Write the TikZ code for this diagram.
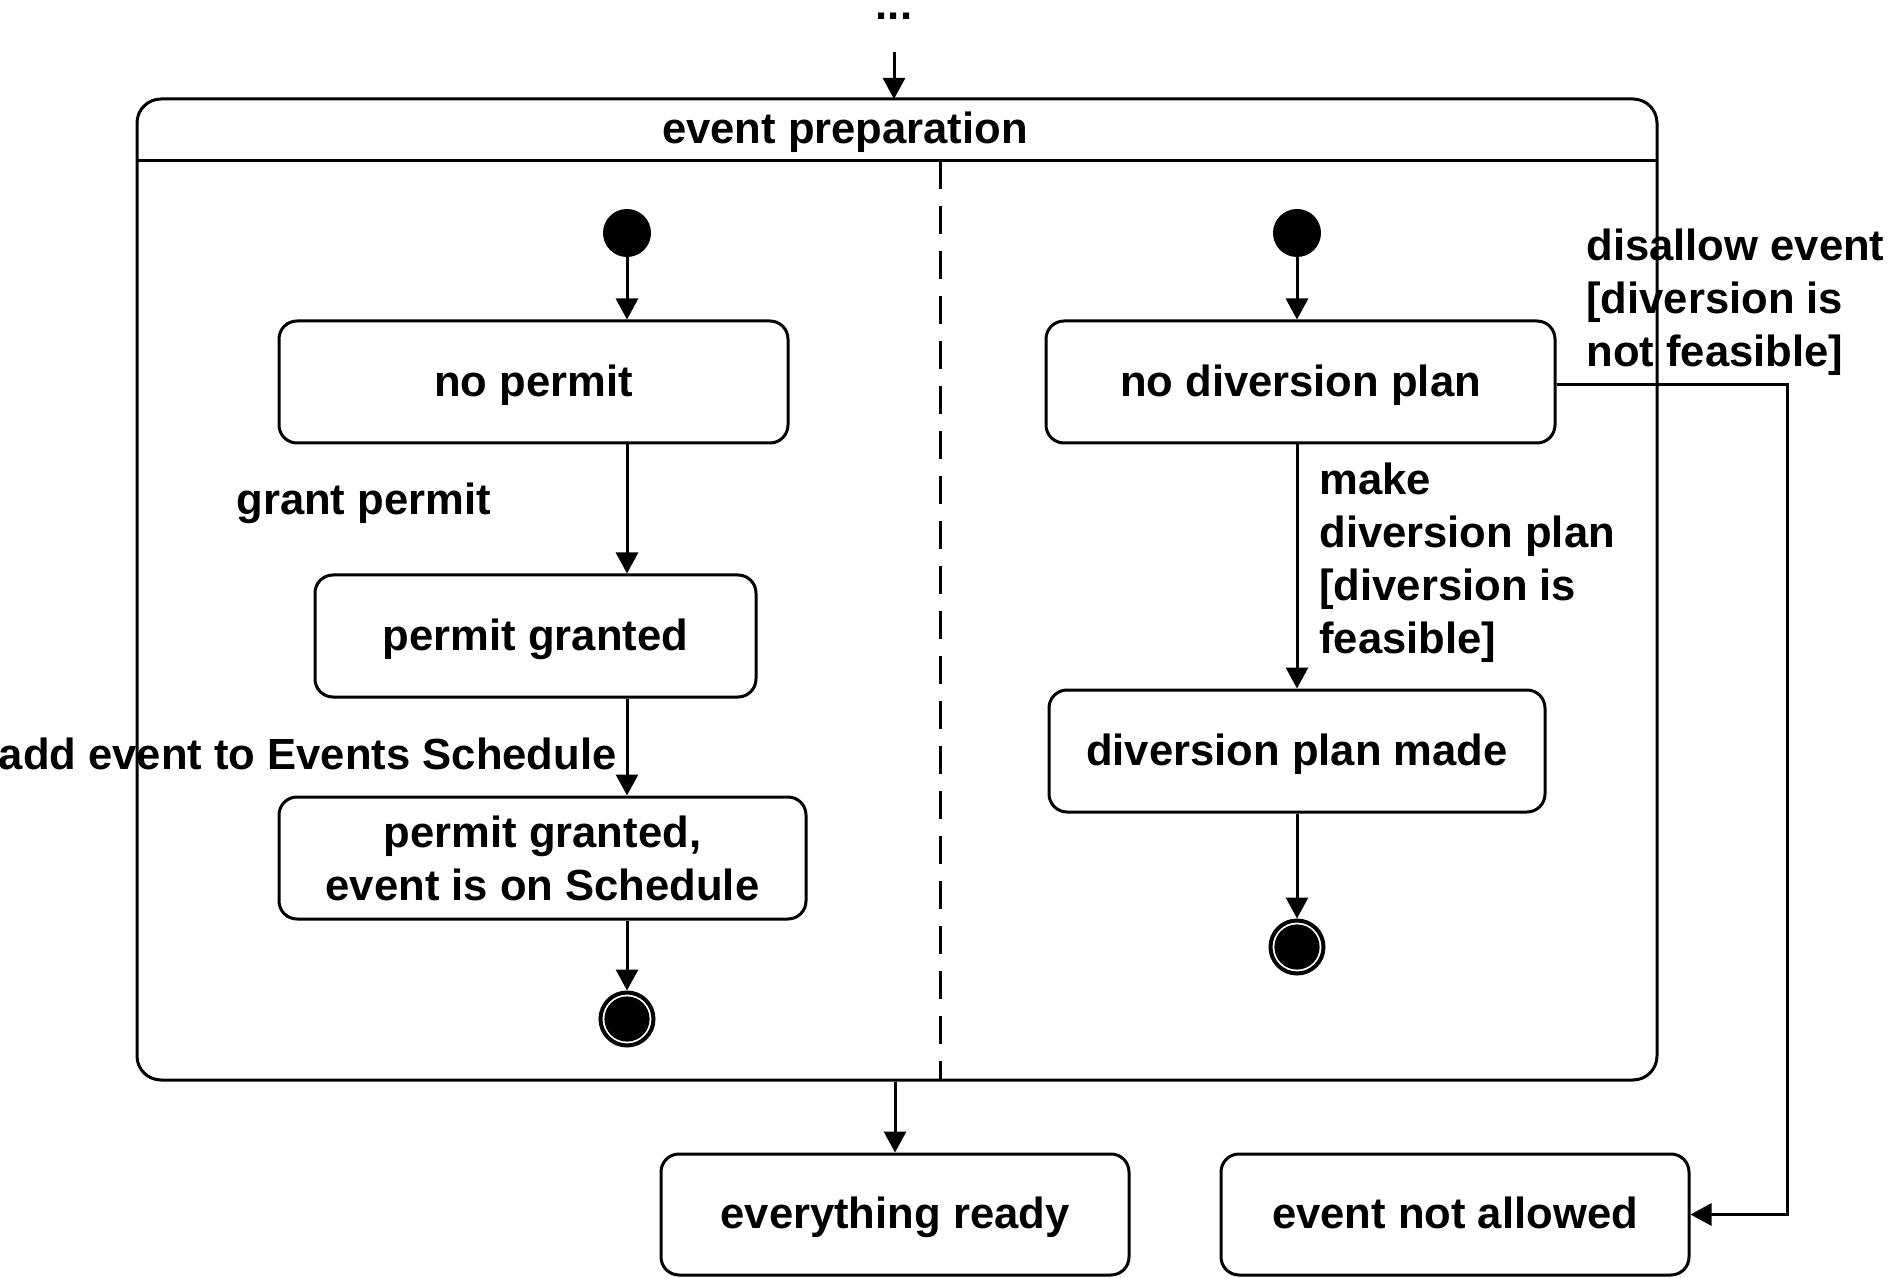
\documentclass[tikz,border=0pt]{standalone}
\usepackage{fontspec}
\setmainfont{Liberation Sans}
\usetikzlibrary{arrows.meta}
\begin{document}
\begin{tikzpicture}[x=0.5pt,y=-0.5pt,
  every node/.style={font=\bfseries\fontsize{21.8pt}{26.5pt}\selectfont},
  state/.style={draw, line width=1.5pt, rounded corners=9pt, align=center, inner sep=0pt},
  sline/.style={text height=15.7pt, text depth=1.5pt},
  lbl/.style={align=left, inner sep=0pt},
  initst/.style={circle, fill=black, minimum size=24pt, inner sep=0pt},
  finalst/.style={circle, draw, line width=2pt, fill=white, minimum size=26.5pt, inner sep=0pt,
     path picture={\fill[black] (path picture bounding box.center) circle (11.3pt);}},
  conn/.style={line width=1.5pt, -{Triangle[length=10.5pt,width=11pt]}},
  line/.style={line width=1.5pt}
]
\useasboundingbox (0,0) rectangle (1897,1278);

% outer composite state
\node[state, rounded corners=12pt, minimum width=760pt, minimum height=490.5pt] (outer) at (897,589.5) {};
\coordinate (hl) at (137,161);
\coordinate (hr) at (1657,161);
\draw[line] (hl) -- (hr);
\node (title) at (845,132.6) {event preparation};
\coordinate (dtop) at (940,161);
\coordinate (dbot) at (940,1080);
\draw[line width=1.5pt, dash pattern=on 14pt off 8.5pt] (dtop) -- (dbot);

% incoming
\node (dots) at (894,16) {...};
\coordinate (instart) at (894,52);
\coordinate (inend) at (894,99);
\draw[conn] (instart) -- (inend);

% left region
\node[initst] (i1) at (627,233) {};
\node[state, sline, minimum width=254.5pt, minimum height=61pt] (np) at (533.5,382) {no permit};
\node[state, sline, minimum width=220.5pt, minimum height=61pt] (pg) at (535.5,636) {permit granted};
\node[state, minimum width=263.5pt, minimum height=61pt] (pgs) at (542.5,858) {permit granted,\\event is on Schedule};
\node[finalst] (f1) at (627,1019) {};
\draw[conn] (i1.south) -- (i1.south |- np.north);
\draw[conn] (i1 |- np.south) -- (i1 |- pg.north);
\draw[conn] (i1 |- pg.south) -- (i1 |- pgs.north);
\draw[conn] (i1 |- pgs.south) -- (f1.north);
\node[lbl, anchor=west] (lgp) at (236,503.6) {grant permit};
\node[lbl, anchor=east] (lae) at (617,754) {add event to Events Schedule};

% right region
\node[initst] (i2) at (1297,233) {};
\node[state, sline, minimum width=254.5pt, minimum height=61pt] (ndp) at (1300.5,382) {no diversion plan};
\node[state, sline, minimum width=248pt, minimum height=61pt] (dpm) at (1297,751) {diversion plan made};
\node[finalst] (f2) at (1297,947) {};
\draw[conn] (i2.south) -- (i2.south |- ndp.north);
\draw[conn] (i2 |- ndp.south) -- (dpm.north);
\draw[conn] (dpm.south) -- (f2.north);
\node[lbl, anchor=west] (lmd) at (1319,562.5) {make\\diversion plan\\{[diversion is}\\feasible]};

% bottom states
\node[state, sline, minimum width=234pt, minimum height=60.5pt] (er) at (895,1214.5) {everything ready};
\node[state, sline, minimum width=234pt, minimum height=60.5pt] (ena) at (1455,1214.5) {event not allowed};
\draw[conn] (outer.south -| er.north) -- (er.north);

\coordinate (c1) at (1787,385);
\draw[conn] (ndp.east |- c1) -- (c1) -- (c1 |- ena.east) -- (ena.east);
\node[lbl, anchor=west] (ldis) at (1586,302.6) {disallow event\\{[diversion is}\\not feasible]};
\end{tikzpicture}
\end{document}
